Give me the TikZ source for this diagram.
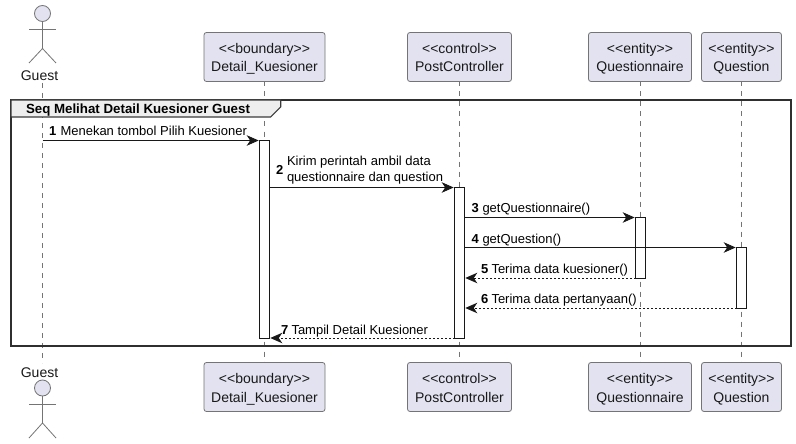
\documentclass[tikz,border=0pt]{standalone}
\usepackage{fontspec}
\setmainfont{Liberation Sans}
\usetikzlibrary{arrows.meta}
\definecolor{pfill}{HTML}{E2E2F0}
\definecolor{pline}{HTML}{181818}
\definecolor{tabfill}{HTML}{EEEEEE}
\newcommand{\topstrut}{\rule{0pt}{15.5pt}}
\newcommand{\botstrut}{\rule[-4pt]{0pt}{4pt}}
\tikzset{
  x=1pt,y=-1pt,
  partbox/.style={draw=pline!60,line width=.8pt,fill=pfill,rounded corners=2.5pt,minimum height=49pt,inner sep=0pt,outer sep=0pt,align=center,text=black!90,font=\fontsize{14}{18.5}\selectfont},
  actorname/.style={inner sep=0pt,outer sep=0pt,anchor=base,text=black!90,font=\fontsize{14}{18}\selectfont},
  head/.style={circle,draw=pline!60,line width=.8pt,fill=pfill,minimum size=16pt,inner sep=0pt,outer sep=0pt},
  limb/.style={draw=pline!60,line width=.8pt},
  lifeline/.style={draw=pline!60,line width=.7pt,dash pattern=on 5pt off 5pt},
  activation/.style={draw=pline,line width=.9pt,fill=white,minimum width=10pt,inner sep=0pt,outer sep=0pt,anchor=north},
  msg/.style={draw=pline,line width=.9pt,-{Stealth[length=12pt,width=10.5pt,inset=3.5pt]},shorten >=.8pt},
  ret/.style={msg,dash pattern=on 2pt off 2pt},
  num/.style={inner sep=0pt,outer sep=0pt,anchor=base west,font=\fontsize{13}{15}\selectfont\bfseries},
  lbl/.style={inner sep=0pt,outer sep=0pt,anchor=base west,align=left,font=\fontsize{13}{15.7}\selectfont},
}
\begin{document}
\begin{tikzpicture}
\useasboundingbox[fill=white] (0,0) rectangle (796,444);
% participants
\node[partbox,minimum width=121pt] (dk) at (264.5,57) {\topstrut<{}<boundary>{}>\\Detail\_Kuesioner\botstrut};
\node[partbox,minimum width=104pt] (pc) at (459.5,57) {\topstrut<{}<control>{}>\\PostController\botstrut};
\node[partbox,minimum width=103pt] (qn) at (640,57) {\topstrut<{}<entity>{}>\\Questionnaire\botstrut};
\node[partbox,minimum width=80pt] (qs) at (741.5,57) {\topstrut<{}<entity>{}>\\Question\botstrut};
\node[partbox,minimum width=121pt] (dkb) at (264.5,387) {\topstrut<{}<boundary>{}>\\Detail\_Kuesioner\botstrut};
\node[partbox,minimum width=104pt] (pcb) at (459.5,387) {\topstrut<{}<control>{}>\\PostController\botstrut};
\node[partbox,minimum width=103pt] (qnb) at (640,387) {\topstrut<{}<entity>{}>\\Questionnaire\botstrut};
\node[partbox,minimum width=80pt] (qsb) at (741.5,387) {\topstrut<{}<entity>{}>\\Question\botstrut};
% actors
\node[actorname] (gt) at (39.5,80.2) {Guest};
\node[actorname] (gb) at (39.5,377.4) {Guest};
\node[head] (gh) at (42.5,13.5) {};
\node[head] (ghb) at (42.5,388) {};
\coordinate (hip) at (42.5,48.5);
\coordinate (hipb) at (42.5,423);
\draw[limb] (gh.south) -- (hip);
\draw[limb] (29,29) -- (56,29);
\draw[limb] (29,63) -- (hip) -- (56,63);
\draw[limb] (ghb.south) -- (hipb);
\draw[limb] (29,404) -- (56,404);
\draw[limb] (29,438) -- (hipb) -- (56,438);
% lifelines
\coordinate (gl1) at (42.5,83);
\coordinate (gl2) at (42.5,363);
\draw[lifeline] (gl1) -- (gl2);
\draw[lifeline] (dk.south) -- (dkb.north);
\draw[lifeline] (pc.south) -- (pcb.north);
\draw[lifeline] (qn.south) -- (qnb.north);
\draw[lifeline] (qs.south) -- (qsb.north);
% frame
\draw[draw=pline!90,line width=2pt] (11,100) rectangle (791,346);
\draw[draw=pline!85,line width=1.1pt,fill=tabfill] (11,100) -- (280.7,100) -- (280.7,107) -- (270.7,117) -- (11,117) -- cycle;
\node[inner sep=0pt,outer sep=0pt,anchor=base west,font=\fontsize{13.3}{15}\selectfont\bfseries] (title) at (26,113.5) {Seq Melihat Detail Kuesioner Guest};
% activations
\node[activation,minimum height=197.5pt] (a1) at (264.5,140.5) {};
\node[activation,minimum height=150.5pt] (a2) at (459.5,187.5) {};
\node[activation,minimum height=60.5pt] (a3) at (640.5,217.5) {};
\node[activation,minimum height=60.5pt] (a4) at (741.5,247.5) {};
% messages
\draw[msg] (gl1 |- a1.north) -- (a1.north west);
\draw[msg] (a1.east |- a2.north) -- (a2.north west);
\draw[msg] (a2.east |- a3.north) -- (a3.north west);
\draw[msg] (a2.east |- a4.north) -- (a4.north west);
\draw[ret] (a3.south west) -- (a2.east |- a3.south);
\draw[ret] (a4.south west) -- (a2.east |- a4.south);
\draw[ret] (a2.south west) -- (a1.east |- a2.south);
% labels
\node[num] (n1) at (49,135.5) {1};
\node[lbl] (l1) at (60.5,135.5) {Menekan tombol Pilih Kuesioner};
\node[num] (n2) at (276,175) {2};
\node[lbl,anchor=north west] (l2) at (287,156.5) {Kirim perintah ambil data\\questionnaire dan question};
\node[num] (n3) at (471.5,212.7) {3};
\node[lbl] (l3) at (482.5,212.7) {getQuestionnaire()};
\node[num] (n4) at (471.5,243) {4};
\node[lbl] (l4) at (482.5,243) {getQuestion()};
\node[num] (n5) at (481,273) {5};
\node[lbl] (l5) at (491.5,273) {Terima data kuesioner()};
\node[num] (n6) at (481,303) {6};
\node[lbl] (l6) at (491.5,303) {Terima data pertanyaan()};
\node[num] (n7) at (281,334) {7};
\node[lbl] (l7) at (291.5,334) {Tampil Detail Kuesioner};
\end{tikzpicture}
\end{document}
